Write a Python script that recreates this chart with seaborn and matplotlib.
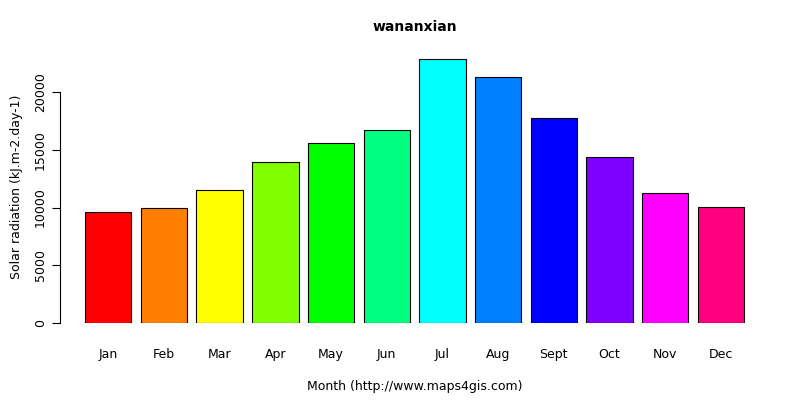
import matplotlib
matplotlib.use("Agg")
import matplotlib.pyplot as plt
import seaborn as sns
import colorsys

months = ["Jan", "Feb", "Mar", "Apr", "May", "Jun", "Jul", "Aug", "Sept", "Oct", "Nov", "Dec"]
radiation = [9610, 9950, 11500, 13940, 15580, 16700, 22850, 21300, 17750, 14370, 11250, 10040]

# R rainbow(12)
colors = [colorsys.hsv_to_rgb(i / 12, 1, 1) for i in range(12)]

fig = plt.figure(figsize=(8, 4), dpi=100)
ax = fig.add_axes([60 / 800, 77 / 400, 710 / 800, 273 / 400])
sns.barplot(x=list(range(12)), y=radiation, hue=list(range(12)), palette=colors,
            legend=False, width=0.833, edgecolor="black", linewidth=0.8, ax=ax,
            native_scale=True, saturation=1)
ax.set_xlim(-0.865, 11.88)
ax.set_ylim(0, 273 / 0.01155)
ax.set_xticks(range(12))
ax.set_xticklabels(months, fontsize=9)
ax.tick_params(axis="x", length=0, pad=18)
ax.set_yticks([0, 5000, 10000, 15000, 20000])
ax.set_yticklabels(["0", "5000", "10000", "15000", "20000"], rotation=90, va="center", fontsize=9)
ax.tick_params(axis="y", length=6)
for s in ["top", "right", "bottom"]:
    ax.spines[s].set_visible(False)
ax.spines["left"].set_bounds(0, 20000)
ax.set_title("wananxian", fontsize=10, fontweight="bold", y=1.0, pad=0)
ax.title.set_position((0.5, (400 - 31 - 77) / 273))
ax.set_xlabel("Month (http://www.maps4gis.com)", fontsize=9, labelpad=14)
ax.set_ylabel("Solar radiation (kJ.m-2.day-1)", fontsize=9, labelpad=8)
fig.savefig("out.png")
